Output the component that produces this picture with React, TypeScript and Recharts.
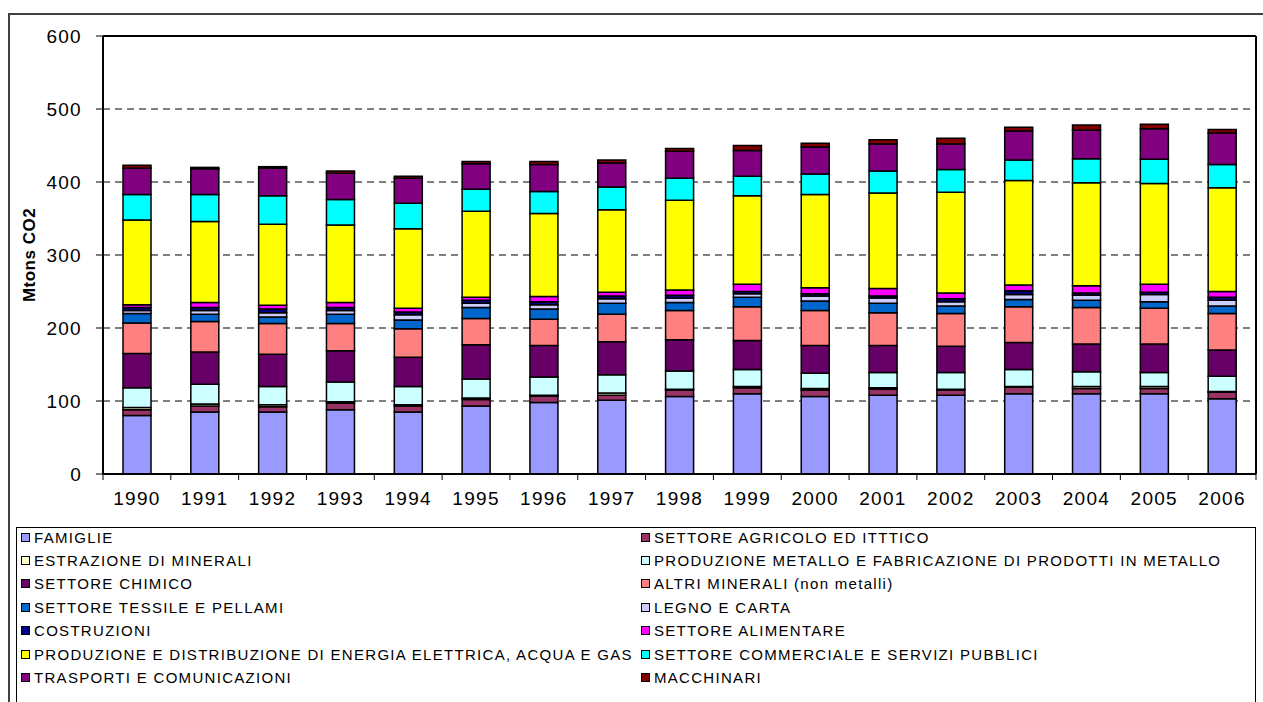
import React from 'react';
import { BarChart, Bar, XAxis, YAxis, CartesianGrid, ReferenceLine } from 'recharts';

const years = ['1990', '1991', '1992', '1993', '1994', '1995', '1996', '1997', '1998', '1999', '2000', '2001', '2002', '2003', '2004', '2005', '2006'];
const yTicks = [0, 100, 200, 300, 400, 500, 600];

const famiglie = [80, 85, 85, 88, 85, 93, 98, 101, 106, 110, 106, 108, 108, 110, 110, 110, 103];
const agricolo = [8, 8, 7, 9, 8, 9, 9, 7, 9, 8, 9, 8, 7, 9, 7, 7, 9];
const estrazione = [3, 3, 3, 2, 2, 2, 1, 3, 1, 2, 2, 2, 1, 1, 3, 3, 1];
const metallo = [27, 27, 25, 27, 25, 26, 25, 25, 25, 23, 21, 21, 23, 23, 20, 19, 21];
const chimico = [47, 44, 44, 43, 40, 47, 43, 45, 43, 40, 38, 37, 36, 37, 38, 39, 36];
const altriMinerali = [42, 42, 42, 37, 39, 36, 36, 38, 40, 46, 48, 45, 45, 49, 50, 49, 50];
const tessile = [13, 10, 9, 13, 12, 15, 14, 15, 11, 13, 13, 13, 10, 10, 10, 9, 10];
const legno = [4, 5, 6, 5, 7, 6, 6, 6, 6, 5, 7, 7, 6, 7, 7, 10, 8];
const costruzioni = [4, 4, 5, 4, 4, 4, 4, 4, 4, 3, 3, 3, 4, 5, 3, 3, 4];
const alimentare = [4, 7, 5, 7, 5, 4, 7, 5, 7, 10, 8, 10, 8, 8, 10, 11, 8];
const energia = [116, 111, 111, 106, 109, 118, 114, 113, 123, 121, 128, 131, 138, 143, 141, 138, 142];
const commerciale = [35, 37, 39, 35, 35, 30, 30, 31, 30, 27, 28, 30, 31, 28, 33, 33, 32];
const trasporti = [36, 35, 38, 36, 34, 35, 37, 33, 37, 35, 37, 37, 35, 40, 39, 42, 43];
const macchinari = [4, 2, 2, 3, 3, 3, 4, 4, 4, 7, 5, 6, 8, 5, 7, 6, 5];

const series = [
  { key: 'famiglie', name: 'FAMIGLIE', color: '#9999FF', values: famiglie },
  { key: 'agricolo', name: 'SETTORE AGRICOLO ED ITTTICO', color: '#993366', values: agricolo },
  { key: 'estrazione', name: 'ESTRAZIONE DI MINERALI', color: '#FFFFCC', values: estrazione },
  { key: 'metallo', name: 'PRODUZIONE  METALLO E FABRICAZIONE DI PRODOTTI IN METALLO', color: '#CCFFFF', values: metallo },
  { key: 'chimico', name: 'SETTORE CHIMICO', color: '#660066', values: chimico },
  { key: 'altri', name: 'ALTRI MINERALI (non metalli)', color: '#FF8080', values: altriMinerali },
  { key: 'tessile', name: 'SETTORE TESSILE E PELLAMI', color: '#0066CC', values: tessile },
  { key: 'legno', name: 'LEGNO E CARTA', color: '#CCCCFF', values: legno },
  { key: 'costruzioni', name: 'COSTRUZIONI', color: '#000080', values: costruzioni },
  { key: 'alimentare', name: 'SETTORE ALIMENTARE', color: '#FF00FF', values: alimentare },
  { key: 'energia', name: 'PRODUZIONE E DISTRIBUZIONE DI ENERGIA ELETTRICA, ACQUA E GAS', color: '#FFFF00', values: energia },
  { key: 'commerciale', name: 'SETTORE COMMERCIALE E SERVIZI PUBBLICI', color: '#00FFFF', values: commerciale },
  { key: 'trasporti', name: 'TRASPORTI E COMUNICAZIONI', color: '#800080', values: trasporti },
  { key: 'macchinari', name: 'MACCHINARI', color: '#800000', values: macchinari },
];

const data = years.map((y, i) => {
  const row: Record<string, string | number> = { year: y };
  series.forEach((s) => {
    row[s.key] = s.values[i];
  });
  return row;
});

const FONT = '"Liberation Sans", Arial, sans-serif';
const CHART_W = 1263;
const CHART_H = 520;
const PLOT_LEFT = 103;
const PLOT_TOP = 36;
const PLOT_RIGHT = 1256;
const PLOT_BOTTOM = 474;
const HALF_BAND = (PLOT_RIGHT - PLOT_LEFT) / years.length / 2;

const XTick = (props: any) => {
  const { x, payload } = props;
  const isLast = payload.value === years[years.length - 1];
  return (
    <g>
      <line x1={x - HALF_BAND} x2={x - HALF_BAND} y1={PLOT_BOTTOM} y2={PLOT_BOTTOM + 6} stroke="#000" strokeWidth={1} />
      {isLast && (
        <line x1={x + HALF_BAND} x2={x + HALF_BAND} y1={PLOT_BOTTOM} y2={PLOT_BOTTOM + 6} stroke="#000" strokeWidth={1} />
      )}
      <text
        x={x}
        y={PLOT_BOTTOM + 31}
        textAnchor="middle"
        fontSize={19}
        fill="#000"
        style={{ fontFamily: FONT, letterSpacing: '1.3px' }}
      >
        {payload.value}
      </text>
    </g>
  );
};

export default function App() {
  return (
    <div
      style={{
        position: 'fixed',
        left: 0,
        top: 0,
        width: 1263,
        height: 702,
        overflow: 'hidden',
        background: '#fff',
        fontFamily: FONT,
      }}
    >
      <div
        style={{
          position: 'absolute',
          left: 8,
          top: 13,
          width: 1300,
          height: 800,
          border: '2px solid #404040',
        }}
      />
      <div style={{ position: 'absolute', left: 0, top: 0 }}>
        <BarChart
          width={CHART_W}
          height={CHART_H}
          data={data}
          margin={{ top: PLOT_TOP, right: CHART_W - PLOT_RIGHT - 1, left: 0, bottom: 0 }}
          barSize={28}
        >
          <CartesianGrid vertical={false} stroke="#000" strokeDasharray="7 5" strokeWidth={1} />
          <XAxis
            dataKey="year"
            interval={0}
            tickLine={false}
            tick={<XTick />}
            height={CHART_H - PLOT_BOTTOM}
            axisLine={{ stroke: '#000', strokeWidth: 2 }}
          />
          <YAxis
            type="number"
            domain={[0, 600]}
            ticks={yTicks}
            width={PLOT_LEFT}
            tickSize={7}
            tickMargin={14}
            interval={0}
            tick={{ fontSize: 19, fill: '#000', fontFamily: FONT, style: { letterSpacing: '1.3px' } } as any}
            tickLine={{ stroke: '#000' }}
            axisLine={{ stroke: '#000', strokeWidth: 2 }}
          />
          <YAxis
            yAxisId="r"
            orientation="right"
            type="number"
            domain={[0, 600]}
            width={1}
            tick={false}
            tickLine={false}
            axisLine={{ stroke: '#000', strokeWidth: 2 }}
          />
          <ReferenceLine y={600} stroke="#000" strokeWidth={2} />
          {series.map((s) => (
            <Bar
              key={s.key}
              dataKey={s.key}
              name={s.name}
              stackId="a"
              fill={s.color}
              stroke="#000"
              strokeWidth={1.5}
              isAnimationActive={false}
            />
          ))}
        </BarChart>
      </div>
      <div
        style={{
          position: 'absolute',
          left: 22,
          top: 255,
          transform: 'translate(-50%, -50%) rotate(-90deg)',
          transformOrigin: 'center',
          fontSize: 17,
          fontWeight: 'bold',
          whiteSpace: 'nowrap',
          letterSpacing: '0.5px',
          color: '#000',
          marginLeft: 8,
        }}
      >
        Mtons CO2
      </div>
      <div
        style={{
          position: 'absolute',
          left: 16,
          top: 527,
          width: 1238,
          height: 180,
          border: '1px solid #000',
        }}
      >
        {series.map((s, i) => {
          const row = Math.floor(i / 2);
          const col = i % 2;
          return (
            <div
              key={s.key}
              style={{
                position: 'absolute',
                left: col === 0 ? 4 : 624,
                top: row * 23.4 - 1,
                height: 20,
                display: 'flex',
                alignItems: 'center',
                whiteSpace: 'nowrap',
              }}
            >
              <span
                style={{
                  display: 'inline-block',
                  width: 7,
                  height: 7,
                  background: s.color,
                  border: '1px solid #000',
                  marginRight: 4,
                }}
              />
              <span style={{ fontSize: 15, letterSpacing: '1.3px', color: '#000' }}>{s.name}</span>
            </div>
          );
        })}
      </div>
    </div>
  );
}
